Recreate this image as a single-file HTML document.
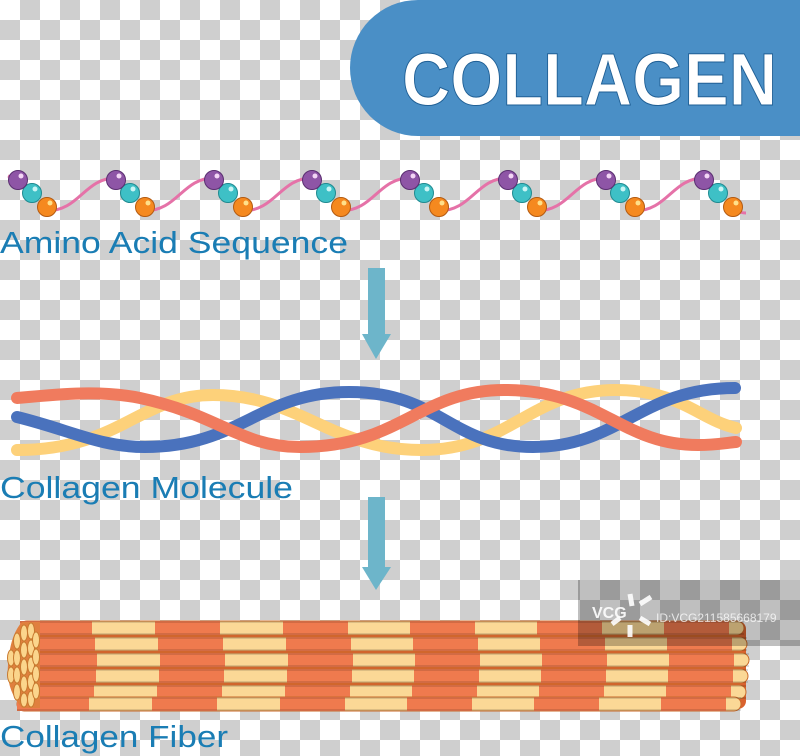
<!DOCTYPE html>
<html><head><meta charset="utf-8"><style>
html,body{margin:0;padding:0;}
body{width:800px;height:756px;overflow:hidden;
background-color:#fff;
background-image:linear-gradient(45deg,#cfcfcf 25%,transparent 25%,transparent 75%,#cfcfcf 75%),linear-gradient(45deg,#cfcfcf 25%,transparent 25%,transparent 75%,#cfcfcf 75%);
background-size:40px 40px;background-position:0 0,20px 20px;}
svg{position:absolute;left:0;top:0;}
</style></head><body>
<svg width="800" height="756" viewBox="0 0 800 756" xmlns="http://www.w3.org/2000/svg" font-family="Liberation Sans, sans-serif">
<path d="M418 0 H800 V136 H418 A68 68 0 0 1 418 0 Z" fill="#4a8fc6"/>
<text x="402" y="105" font-size="74" font-weight="bold" fill="#fff" stroke="#1f5f95" stroke-width="1" textLength="375" lengthAdjust="spacingAndGlyphs">COLLAGEN</text>

<path d="M8 176 L18 180" stroke="#e572a8" stroke-width="3" fill="none"/>
<g stroke="#e572a8" stroke-width="3" fill="none">
<path d="M46 211 C80 211 84 178 116 178 M144 211 C178 211 182 178 214 178 M242 211 C276 211 280 178 312 178 M340 211 C374 211 378 178 410 178 M438 211 C472 211 476 178 508 178 M536 211 C570 211 574 178 606 178 M634 211 C668 211 672 178 704 178 M732 210 C738 212 742 213 746 213"/>
</g>
<g stroke-width="1">
<g id="u">
<circle cx="47" cy="207" r="9.5" fill="#f5891f" stroke="#b35a10"/>
<circle cx="32" cy="193" r="9.5" fill="#3ec0c6" stroke="#1f8a90"/>
<circle cx="18" cy="180" r="9.5" fill="#8e55a6" stroke="#5a2e70"/>
<circle cx="21" cy="176" r="2.5" fill="#f3d6f5"/>
<circle cx="35" cy="189" r="2.5" fill="#c8f5f5"/>
<circle cx="50" cy="203" r="2.5" fill="#ffe08a"/>
</g>
<use href="#u" x="98"/><use href="#u" x="196"/><use href="#u" x="294"/><use href="#u" x="392"/><use href="#u" x="490"/><use href="#u" x="588"/><use href="#u" x="686"/>
</g>
<text x="0" y="253" font-size="31" fill="#1a7db4" textLength="348" lengthAdjust="spacingAndGlyphs">Amino Acid Sequence</text>

<g fill="#6db5ca">
<rect x="368" y="268" width="17" height="66"/><path d="M362 334 H391 L376 359 Z"/>
<rect x="368" y="497" width="17" height="70"/><path d="M362 567 H391 L376 590 Z"/>
</g>

<g fill="none" stroke-width="12" stroke-linecap="round">
<path d="M17 450 C120 450 140 395 213 395 C300 395 330 450 422 450 C510 450 530 390 616 390 C680 390 700 420 736 428" stroke="#fdd17a"/>
<path d="M17 417 C70 430 100 447 145 447 C240 447 260 392 349 392 C440 392 450 447 533 447 C620 447 640 388 735 388" stroke="#4a72bd"/>
<path d="M17 398 C60 394 100 390 140 398 C220 415 240 447 300 447 C400 447 420 390 504 390 C600 390 620 445 698 445 C715 445 725 443 736 442" stroke="#f07b5e"/>
</g>
<text x="0" y="498" font-size="31" fill="#1a7db4" textLength="293" lengthAdjust="spacingAndGlyphs">Collagen Molecule</text>

<defs>
<g id="row">
<rect x="20" y="0" width="724" height="14" rx="7" fill="#fbd896" stroke="#c96a2a" stroke-width="1"/>
<rect x="20" y="0" width="72" height="14" fill="#ef7a4e"/>
<rect x="155" y="0" width="65" height="14" fill="#ef7a4e"/>
<rect x="283" y="0" width="65" height="14" fill="#ef7a4e"/>
<rect x="410" y="0" width="65" height="14" fill="#ef7a4e"/>
<rect x="537" y="0" width="65" height="14" fill="#ef7a4e"/>
<rect x="664" y="0" width="65" height="14" fill="#ef7a4e"/>
<rect x="20" y="0" width="724" height="2" fill="#000" opacity="0.12"/>
<rect x="20" y="12" width="724" height="2" fill="#000" opacity="0.12"/>
</g>
</defs>
<rect x="20" y="621" width="726" height="88" rx="8" fill="#d9622e"/>
<use href="#row" y="621"/>
<use href="#row" y="637" x="3"/>
<use href="#row" y="653" x="5"/>
<use href="#row" y="669" x="4"/>
<use href="#row" y="685" x="2"/>
<use href="#row" y="697" x="-3"/>
<path d="M22 622 H40 V708 H22 Q6 690 8 665 Q10 635 22 622 Z" fill="#e0803e"/>
<g fill="#fbd58c" stroke="#c7792f" stroke-width="1">
<ellipse cx="11" cy="658" rx="3.5" ry="8"/><ellipse cx="11" cy="675" rx="3.5" ry="8"/>
<ellipse cx="17" cy="641" rx="3.5" ry="8"/><ellipse cx="17" cy="658" rx="3.5" ry="8"/><ellipse cx="17" cy="675" rx="3.5" ry="8"/><ellipse cx="17" cy="692" rx="3.5" ry="8"/>
<ellipse cx="24" cy="633" rx="3.5" ry="8"/><ellipse cx="24" cy="650" rx="3.5" ry="8"/><ellipse cx="24" cy="667" rx="3.5" ry="8"/><ellipse cx="24" cy="684" rx="3.5" ry="8"/><ellipse cx="24" cy="700" rx="3.5" ry="7"/>
<ellipse cx="31" cy="631" rx="3.5" ry="8"/><ellipse cx="31" cy="648" rx="3.5" ry="8"/><ellipse cx="31" cy="665" rx="3.5" ry="8"/><ellipse cx="31" cy="682" rx="3.5" ry="8"/><ellipse cx="31" cy="699" rx="3.5" ry="8"/>
<ellipse cx="36" cy="640" rx="3.5" ry="8"/><ellipse cx="36" cy="657" rx="3.5" ry="8"/><ellipse cx="36" cy="674" rx="3.5" ry="8"/><ellipse cx="36" cy="691" rx="3.5" ry="8"/>
</g>
<text x="0" y="747" font-size="31" fill="#1a7db4" textLength="228" lengthAdjust="spacingAndGlyphs">Collagen Fiber</text>

<rect x="578" y="580" width="222" height="66" fill="#000" opacity="0.25"/>
<text x="592" y="618" font-size="16" font-weight="bold" fill="#fff" opacity="0.9">VCG</text>
<g stroke="#fff" stroke-width="5" opacity="0.9"><line x1="630" y1="594" x2="632" y2="606"/><line x1="640" y1="604" x2="651" y2="597"/><line x1="640" y1="618" x2="650" y2="624"/><line x1="630" y1="625" x2="630" y2="637"/><line x1="620" y1="618" x2="612" y2="624"/></g>
<text x="656" y="622" font-size="12" fill="#fff" opacity="0.75">ID:VCG211585668179</text>
</svg>
</body></html>
